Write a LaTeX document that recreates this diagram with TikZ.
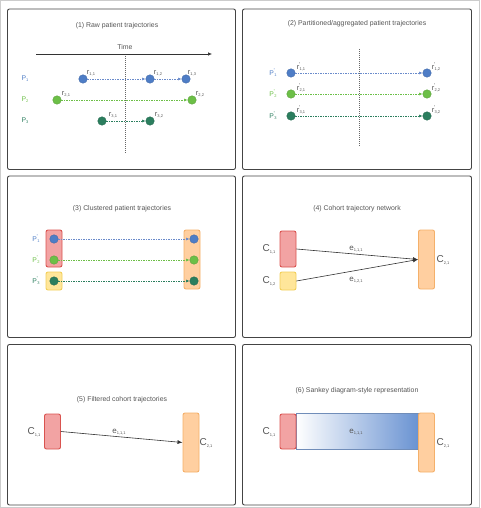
\documentclass[tikz,border=0pt]{standalone}
\usepackage{fontspec}
\setmainfont{Liberation Sans}
\usetikzlibrary{arrows.meta}
\definecolor{pblue}{HTML}{4E7DC6}
\definecolor{pbluel}{HTML}{6A8BCB}
\definecolor{pgreen}{HTML}{6CBF47}
\definecolor{pdgreen}{HTML}{2B7E5E}
\definecolor{redfill}{HTML}{F2A3A3}
\definecolor{reddraw}{HTML}{D9534F}
\definecolor{yelfill}{HTML}{FFE69A}
\definecolor{yeldraw}{HTML}{F2CF5A}
\definecolor{orafill}{HTML}{FFCFA0}
\definecolor{oradraw}{HTML}{F4B06A}
\definecolor{sankblue}{HTML}{6A93D2}
\definecolor{txtgray}{HTML}{555555}
\definecolor{framegray}{HTML}{444444}
\newcommand\mysub[1]{\raisebox{-0.3ex}{\fontsize{4}{4}\selectfont #1}}
\newcommand\myprime{\kern-0.3pt\raisebox{0.8ex}{\fontsize{5.5}{5.5}\selectfont '}\kern-0.6pt}
\begin{document}
\begin{tikzpicture}[x=1pt,y=-1pt,
  panel/.style={draw=framegray,line width=0.9pt,rounded corners=2pt},
  ttl/.style={font=\fontsize{6.9}{8}\selectfont,text=txtgray,inner sep=0pt},
  dot/.style={circle,minimum size=8.5pt,inner sep=0pt,fill=#1,draw=#1!85!black,line width=0.4pt},
  rl/.style={font=\fontsize{7.5}{8}\selectfont,text=txtgray,inner sep=0pt},
  pl/.style={font=\fontsize{6.8}{7}\selectfont,text=#1,inner sep=0pt},
  cl/.style={font=\fontsize{10}{11}\selectfont,text=txtgray,inner sep=0pt},
  el/.style={font=\fontsize{8}{9}\selectfont,text=txtgray,inner sep=0pt},
  traj/.style={draw=#1,dashed,dash pattern=on 1.5pt off 1pt,line width=0.6pt,-{Latex[length=3.5pt,width=3pt]}},
  vdot/.style={draw=gray!80!black,line width=0.6pt,dash pattern=on 1pt off 1pt},
  redbox/.style={rectangle,rounded corners=2pt,fill=redfill,draw=reddraw,line width=0.9pt,minimum width=16pt,inner sep=0pt},
  yelbox/.style={rectangle,rounded corners=2pt,fill=yelfill,draw=yeldraw,line width=0.9pt,minimum width=16pt,inner sep=0pt},
  orabox/.style={rectangle,rounded corners=2pt,fill=orafill,draw=oradraw,line width=0.9pt,minimum width=16pt,inner sep=0pt},
  flow/.style={draw=black!80,line width=0.6pt,-{Latex[length=5pt,width=4pt]}}
]
\useasboundingbox (0,0) rectangle (480,508);
\draw[gray!40,line width=0.6pt] (0.5,0.5) rectangle (479.5,507.5);
% panel frames
\draw[panel] (7.5,9) rectangle (235.5,169.5);
\draw[panel] (242.5,9) rectangle (471.5,169.5);
\draw[panel] (7.5,176) rectangle (235.5,337.5);
\draw[panel] (242.5,176) rectangle (471.5,337.5);
\draw[panel] (7.5,344.5) rectangle (235.5,505);
\draw[panel] (242.5,344.5) rectangle (471.5,505);

% ---------- Panel 1 ----------
\node[ttl] (t1) at (117,26) {(1) Raw patient trajectories};
\node[ttl] (time) at (125,47) {Time};
\coordinate (ta) at (36,54);
\coordinate (tb) at (212,54);
\draw[black!80,line width=0.6pt,-{Latex[length=4pt,width=3.5pt]}] (ta) -- (tb);
\coordinate (va) at (125,56);
\coordinate (vb) at (125,154);
\draw[vdot] (va) -- (vb);
\node[pl=pblue] (p1) at (25,79) {P\mysub{1}};
\node[pl=pgreen] (p2) at (25,100) {P\mysub{2}};
\node[pl=pdgreen] (p3) at (25,121) {P\mysub{3}};
\node[dot=pblue] (c11) at (83,79) {};
\node[dot=pblue] (c12) at (150,79) {};
\node[dot=pblue] (c13) at (186,79) {};
\node[dot=pgreen] (c21) at (57,100) {};
\node[dot=pgreen] (c22) at (192,100) {};
\node[dot=pdgreen] (c31) at (102,121) {};
\node[dot=pdgreen] (c32) at (150,121) {};
\draw[traj=pbluel] (c11) -- (c12);
\draw[traj=pbluel] (c12) -- (c13);
\draw[traj=pgreen] (c21) -- (c22);
\draw[traj=pdgreen] (c31) -- (c32);
\node[rl] (r11) at (91,73) {r\mysub{1,1}};
\node[rl] (r12) at (158,73) {r\mysub{1,2}};
\node[rl] (r13) at (192,73) {r\mysub{1,3}};
\node[rl] (r21) at (66,94) {r\mysub{2,1}};
\node[rl] (r22) at (200,94) {r\mysub{2,2}};
\node[rl] (r31) at (113,115) {r\mysub{3,1}};
\node[rl] (r32) at (159,115) {r\mysub{3,2}};

% ---------- Panel 2 ----------
\node[ttl] (t2) at (357,24) {(2) Partitioned/aggregated patient trajectories};
\coordinate (wa) at (359,49);
\coordinate (wb) at (359,146);
\draw[vdot] (wa) -- (wb);
\node[pl=pblue] (q1) at (273,73) {P\myprime\mysub{1}};
\node[pl=pgreen] (q2) at (273,94) {P\myprime\mysub{2}};
\node[pl=pdgreen] (q3) at (273,116) {P\myprime\mysub{3}};
\node[dot=pblue] (d11) at (291,73) {};
\node[dot=pblue] (d12) at (427,73) {};
\node[dot=pgreen] (d21) at (291,94) {};
\node[dot=pgreen] (d22) at (427,94) {};
\node[dot=pdgreen] (d31) at (291,116) {};
\node[dot=pdgreen] (d32) at (427,116) {};
\draw[traj=pbluel] (d11) -- (d12);
\draw[traj=pgreen] (d21) -- (d22);
\draw[traj=pdgreen] (d31) -- (d32);
\node[rl] (s11) at (301,67) {r\myprime\mysub{1,1}};
\node[rl] (s12) at (436,67) {r\myprime\mysub{1,2}};
\node[rl] (s21) at (301,88) {r\myprime\mysub{2,1}};
\node[rl] (s22) at (436,88) {r\myprime\mysub{2,2}};
\node[rl] (s31) at (301,110) {r\myprime\mysub{3,1}};
\node[rl] (s32) at (436,110) {r\myprime\mysub{3,2}};

% ---------- Panel 3 ----------
\node[ttl] (t3) at (122,209) {(3) Clustered patient trajectories};
\node[redbox,minimum height=37pt] (b3r) at (54,248.5) {};
\node[yelbox,minimum height=18pt] (b3y) at (54,281) {};
\node[orabox,minimum height=59pt] (b3o) at (192,259.5) {};
\node[pl=pblue] (u1) at (36,239) {P\myprime\mysub{1}};
\node[pl=pgreen] (u2) at (36,260) {P\myprime\mysub{2}};
\node[pl=pdgreen] (u3) at (36,281) {P\myprime\mysub{3}};
\node[dot=pblue] (e11) at (54,239) {};
\node[dot=pgreen] (e21) at (54,260) {};
\node[dot=pdgreen] (e31) at (54,281) {};
\node[dot=pblue] (e12) at (194,239) {};
\node[dot=pgreen] (e22) at (194,260) {};
\node[dot=pdgreen] (e32) at (194,281) {};
\draw[traj=pbluel] (e11) -- (e12);
\draw[traj=pgreen] (e21) -- (e22);
\draw[traj=pdgreen] (e31) -- (e32);

% ---------- Panel 4 ----------
\node[ttl] (t4) at (357,209) {(4) Cohort trajectory network};
\node[redbox,minimum height=36pt] (b4r) at (288,249) {};
\node[yelbox,minimum height=18pt] (b4y) at (288,281) {};
\node[orabox,minimum height=59pt] (b4o) at (426.5,259.5) {};
\draw[flow] (b4r.east) -- (b4o.west);
\draw[flow] (b4y.east) -- (b4o.west);
\node[cl] (l41) at (269,249) {C\mysub{1,1}};
\node[cl] (l42) at (269,281) {C\mysub{1,2}};
\node[cl] (l43) at (443,260) {C\mysub{2,1}};
\node[el] (e4a) at (356,249) {e\mysub{1,1,1}};
\node[el] (e4b) at (356,280) {e\mysub{1,2,1}};

% ---------- Panel 5 ----------
\node[ttl] (t5) at (122,400) {(5) Filtered cohort trajectories};
\node[redbox,minimum height=35pt] (b5r) at (52.5,431.5) {};
\node[orabox,minimum height=59pt] (b5o) at (191,442.5) {};
\draw[flow] (b5r.east) -- (b5o.west);
\node[cl] (l51) at (34,432) {C\mysub{1,1}};
\node[cl] (l52) at (206,443) {C\mysub{2,1}};
\node[el] (e5) at (119,432) {e\mysub{1,1,1}};

% ---------- Panel 6 ----------
\node[ttl] (t6) at (357,391) {(6) Sankey diagram-style representation};
\node[rectangle,minimum width=122pt,minimum height=36pt,inner sep=0pt,left color=white,right color=sankblue,draw=sankblue!70!gray,line width=0.5pt] (band) at (357,431) {};
\node[redbox,minimum height=35pt] (b6r) at (288,431.5) {};
\node[orabox,minimum height=59pt] (b6o) at (426.5,442.5) {};
\node[cl] (l61) at (269,432) {C\mysub{1,1}};
\node[cl] (l62) at (443,443) {C\mysub{2,1}};
\node[el] (e6) at (356,432) {e\mysub{1,1,1}};
\end{tikzpicture}
\end{document}
